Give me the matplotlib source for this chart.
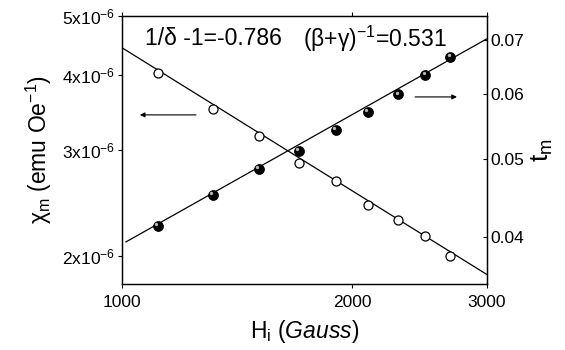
import numpy as np
import matplotlib
matplotlib.use("Agg")
import matplotlib.pyplot as plt
import matplotlib.transforms as mtransforms
from matplotlib.ticker import FixedLocator, FixedFormatter, NullLocator

plt.rcParams['font.family'] = ['Liberation Sans', 'DejaVu Sans']
plt.rcParams['mathtext.fontset'] = 'custom'
plt.rcParams['mathtext.rm'] = 'Liberation Sans'
plt.rcParams['mathtext.it'] = 'Liberation Sans:italic'
plt.rcParams['mathtext.default'] = 'regular'

# ---- data ----
H_chi = [1115, 1315, 1510, 1705, 1905, 2100, 2300, 2495, 2690]
chi_m = [4.02e-6, 3.51e-6, 3.17e-6, 2.86e-6, 2.67e-6, 2.43e-6, 2.30e-6, 2.16e-6, 2.00e-6]

H_t = [1115, 1315, 1510, 1705, 1905, 2100, 2300, 2495, 2690]
t_m = [0.0413, 0.0451, 0.0485, 0.0511, 0.0543, 0.0571, 0.0600, 0.0635, 0.0667]

# power-law fits
chi_fit_exp = -0.786
chi_fit_at_1000 = 4.43e-6
chi_fit_H = [1000, 3000]
t_fit_exp = 0.531
t_fit_at_1000 = 0.0392
t_fit_H = [1012, 3000]

x_ticks = [1000, 2000, 3000]
x_ticklabels = ['1000', '2000', '3000']
chi_ticks = [2e-6, 3e-6, 4e-6, 5e-6]
chi_ticklabels = ['2x10$^{-6}$', '3x10$^{-6}$', '4x10$^{-6}$', '5x10$^{-6}$']
t_ticks = [0.04, 0.05, 0.06, 0.07]
t_ticklabels = ['0.04', '0.05', '0.06', '0.07']

text_delta = '1/\u03b4 -1=-0.786'
text_betagamma = '(\u03b2+\u03b3)$^{-1}$=0.531'

# ---- figure ----
fig = plt.figure(figsize=(5.65, 3.5), dpi=100)
ax = fig.add_axes([122/565, 1-284/350, (486.5-122)/565, (284-16)/350])
ax2 = ax.twinx()

for a in (ax, ax2):
    a.set_xscale('log')
    a.set_yscale('log')
    for s in a.spines.values():
        s.set_linewidth(0.9)

ax.set_xlim(1000, 3000)
ax.set_ylim(1.8e-6, 5e-6)
ax2.set_ylim(0.035, 0.075)

# fit lines
Hc = np.array(chi_fit_H, dtype=float)
ax.plot(Hc, chi_fit_at_1000 * (Hc / 1000.0) ** chi_fit_exp, color='k', lw=0.9, zorder=2)
Ht = np.array(t_fit_H, dtype=float)
ax2.plot(Ht, t_fit_at_1000 * (Ht / 1000.0) ** t_fit_exp, color='k', lw=0.9, zorder=2)

# open circles (chi)
ax.plot(H_chi, chi_m, linestyle='none', marker='o', ms=6.5, mfc='white',
        mec='k', mew=0.9, zorder=3)

# filled "spheres" (t_m)
ax2.plot(H_t, t_m, linestyle='none', marker='o', ms=7.2, mfc='k', mec='k',
         mew=0.5, zorder=3)
hl = mtransforms.offset_copy(ax2.transData, fig=fig, x=-1.3, y=1.3, units='points')
ax2.plot(H_t, t_m, linestyle='none', marker='o', ms=2.4, mfc='#d8d8d8',
         mec='none', alpha=0.85, transform=hl, zorder=4)

# ticks
ax.xaxis.set_major_locator(FixedLocator(x_ticks))
ax.xaxis.set_major_formatter(FixedFormatter(x_ticklabels))
ax.xaxis.set_minor_locator(NullLocator())
ax.yaxis.set_major_locator(FixedLocator(chi_ticks))
ax.yaxis.set_major_formatter(FixedFormatter(chi_ticklabels))
ax.yaxis.set_minor_locator(NullLocator())
ax2.yaxis.set_major_locator(FixedLocator(t_ticks))
ax2.yaxis.set_major_formatter(FixedFormatter(t_ticklabels))
ax2.yaxis.set_minor_locator(NullLocator())
ax2.xaxis.set_minor_locator(NullLocator())

ax.tick_params(axis='x', which='major', direction='out', length=3, width=0.8,
               labelsize=12.5, pad=5, top=True)
ax.tick_params(axis='y', which='major', direction='out', length=3, width=0.8,
               labelsize=12.5, pad=2)
ax2.tick_params(axis='y', which='major', direction='in', length=3, width=0.8,
                labelsize=12.5, pad=3)

ax.set_xlabel('H$_i$ $\\mathit{(Gauss)}$', fontsize=16.5, labelpad=6)
ax.set_ylabel('$\\chi_m$ (emu Oe$^{-1}$)', fontsize=16.5, labelpad=6)
ax2.set_ylabel('t$_m$', fontsize=19, rotation=90, labelpad=4)

# annotation texts
ax.text(0.063, 0.915, text_delta, transform=ax.transAxes, fontsize=16.5,
        ha='left', va='center')
ax.text(0.497, 0.915, text_betagamma, transform=ax.transAxes, fontsize=16.5,
        ha='left', va='center')

# arrows
ax.annotate('', xy=(0.049, 0.631), xytext=(0.203, 0.631), xycoords='axes fraction',
            arrowprops=dict(arrowstyle='-|>', lw=0.8, color='k', mutation_scale=7,
                            shrinkA=0, shrinkB=0))
ax.annotate('', xy=(0.919, 0.698), xytext=(0.804, 0.698), xycoords='axes fraction',
            arrowprops=dict(arrowstyle='-|>', lw=0.8, color='k', mutation_scale=7,
                            shrinkA=0, shrinkB=0))

fig.savefig('out.png', dpi=100)
